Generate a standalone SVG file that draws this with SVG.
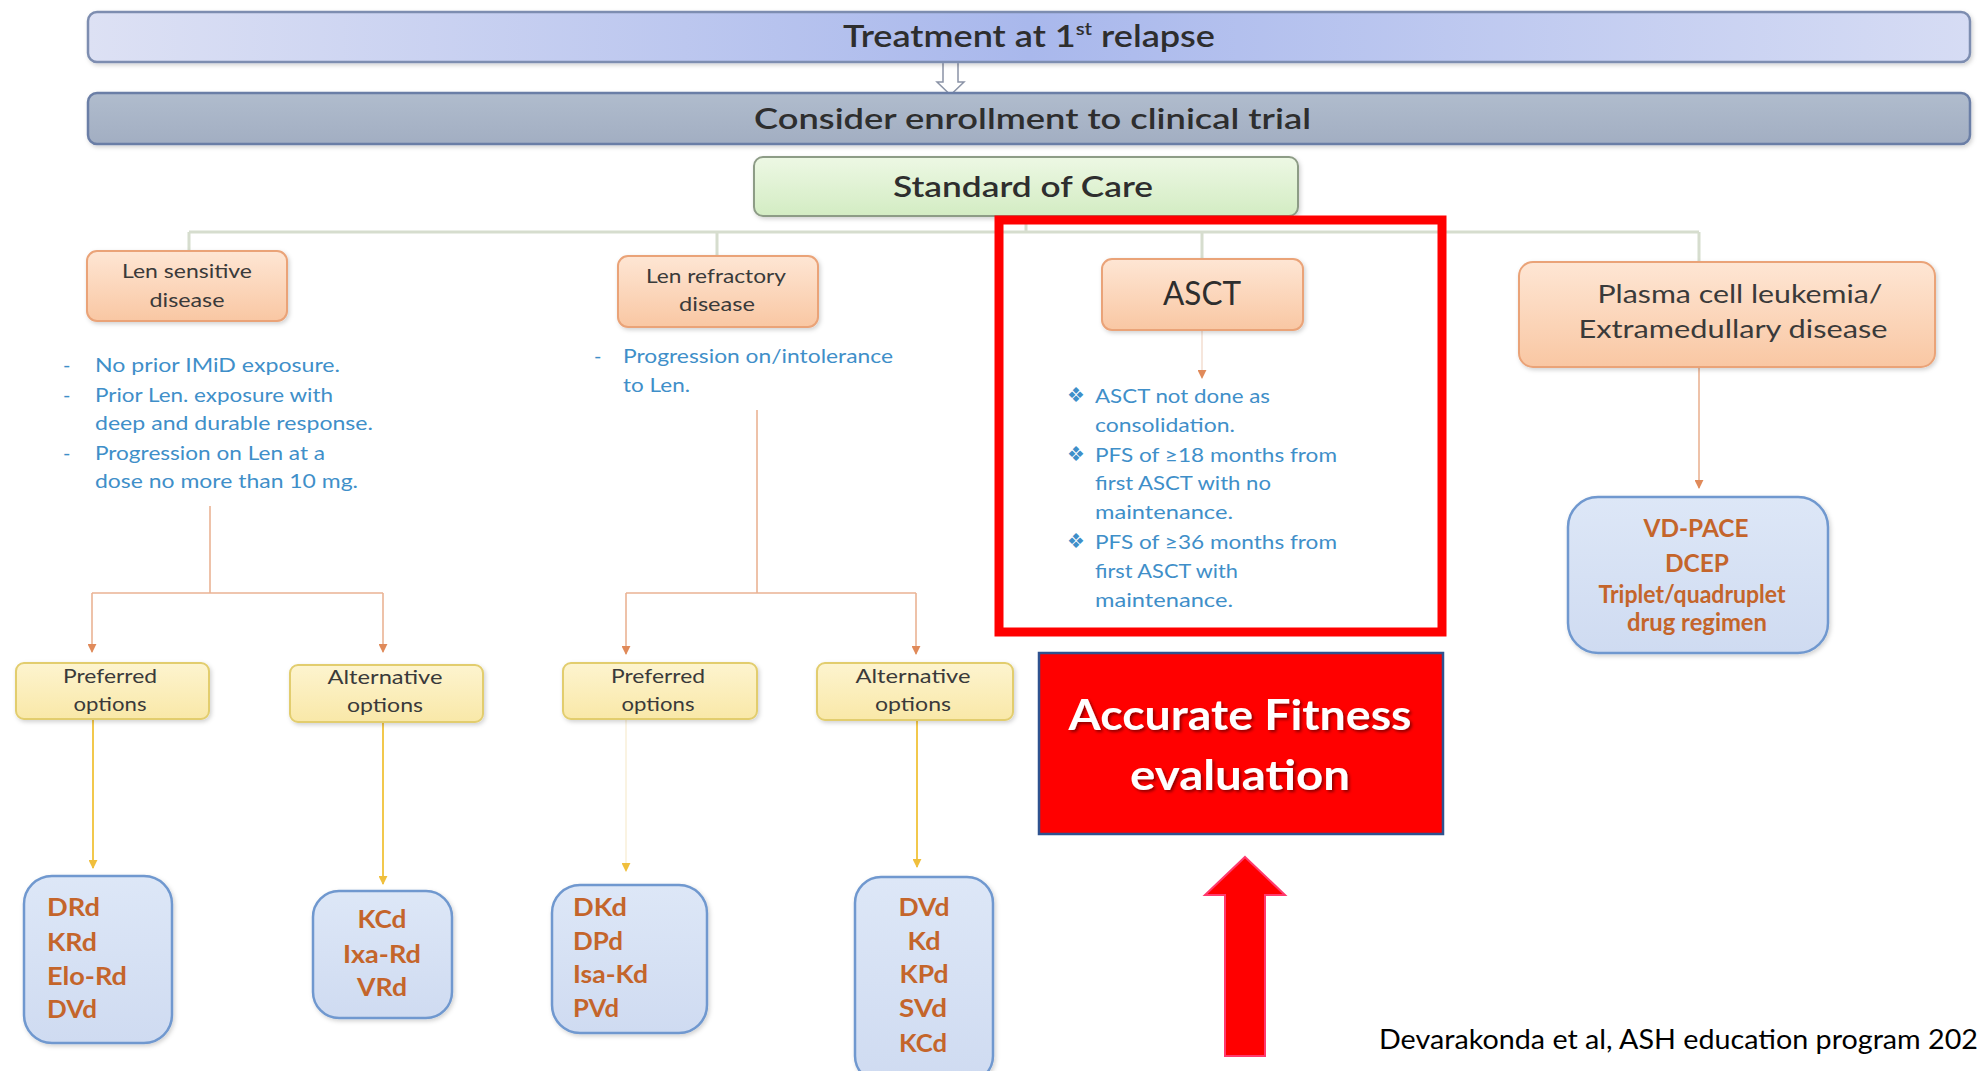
<svg xmlns="http://www.w3.org/2000/svg" width="1978" height="1071" viewBox="0 0 1978 1071">
<style>
  text { font-family: Lato, "Liberation Sans", sans-serif; }
  .hdr { fill: #2e2e2e; font-weight: 600; }
  .lbl { fill: #3a3a3a; font-size: 20px; }
  .bul { fill: #3f8fc9; font-size: 20px; }
  .drug { fill: #c4652b; font-size: 24px; font-weight: 700; }
  .peach { fill: url(#gPeach); stroke: #eaa378; stroke-width: 2; }
  .yel { fill: url(#gYel); stroke: #e2cd6e; stroke-width: 2; }
  .blue { fill: url(#gBlue); stroke: #6f98cf; stroke-width: 2.5; }
  .trunk { stroke: #d6ddce; stroke-width: 3; fill: none; }
  .org { stroke: #eab394; stroke-width: 1.6; fill: none; }
  .ylw { stroke: #f2c84c; stroke-width: 2; fill: none; }
</style>
<defs>
  <linearGradient id="gTop" x1="0" y1="0" x2="1" y2="0">
    <stop offset="0" stop-color="#dde1f4"/>
    <stop offset="0.5" stop-color="#a9b8ec"/>
    <stop offset="1" stop-color="#d6dcf4"/>
  </linearGradient>
  <linearGradient id="gGray" x1="0" y1="0" x2="0" y2="1">
    <stop offset="0" stop-color="#b0bccd"/>
    <stop offset="1" stop-color="#a2aec2"/>
  </linearGradient>
  <linearGradient id="gGreen" x1="0" y1="0" x2="0" y2="1">
    <stop offset="0" stop-color="#edf8e4"/>
    <stop offset="1" stop-color="#d3ecc3"/>
  </linearGradient>
  <linearGradient id="gPeach" x1="0" y1="0" x2="0" y2="1">
    <stop offset="0" stop-color="#fee6d4"/>
    <stop offset="1" stop-color="#f9c7a3"/>
  </linearGradient>
  <linearGradient id="gYel" x1="0" y1="0" x2="0" y2="1">
    <stop offset="0" stop-color="#fdf4cf"/>
    <stop offset="1" stop-color="#f9e8a8"/>
  </linearGradient>
  <linearGradient id="gBlue" x1="0" y1="0" x2="0" y2="1">
    <stop offset="0" stop-color="#dde7f7"/>
    <stop offset="1" stop-color="#cfdbf1"/>
  </linearGradient>
  <filter id="sh" x="-10%" y="-10%" width="120%" height="130%">
    <feDropShadow dx="1.5" dy="2" stdDeviation="2" flood-color="#000" flood-opacity="0.18"/>
  </filter>
  <filter id="tsh" x="-5%" y="-20%" width="110%" height="140%">
    <feDropShadow dx="2" dy="2" stdDeviation="1.5" flood-color="#000" flood-opacity="0.45"/>
  </filter>
  <marker id="aO" viewBox="0 0 10 10" refX="9" refY="5" markerWidth="9" markerHeight="9" markerUnits="userSpaceOnUse" orient="auto">
    <path d="M0,0 L10,5 L0,10 z" fill="#e08a5a"/>
  </marker>
  <marker id="aY" viewBox="0 0 10 10" refX="9" refY="5" markerWidth="9" markerHeight="9" markerUnits="userSpaceOnUse" orient="auto">
    <path d="M0,0 L10,5 L0,10 z" fill="#f0bf3c"/>
  </marker>
</defs>

<rect width="1978" height="1071" fill="#ffffff"/>

<g id="connectors">
  <path class="trunk" d="M1026,216 V232 M189,232 H1699 M189,232 V251 M717,232 V256 M1202,232 V259 M1699,232 V262"/>
  <path class="org" d="M210,506 V593 M92,593 H383"/>
  <path class="org" d="M92,593 V652" marker-end="url(#aO)"/>
  <path class="org" d="M383,593 V652" marker-end="url(#aO)"/>
  <path class="org" d="M757,410 V593 M626,593 H916"/>
  <path class="org" d="M626,593 V654" marker-end="url(#aO)"/>
  <path class="org" d="M916,593 V654" marker-end="url(#aO)"/>
  <path d="M1202,330 V378" stroke="#f3dccd" stroke-width="1.4" fill="none" marker-end="url(#aO)"/>
  <path class="org" d="M1699,367 V488" marker-end="url(#aO)"/>
  <path class="ylw" d="M93,720 V868" marker-end="url(#aY)"/>
  <path class="ylw" d="M383,722 V884" marker-end="url(#aY)"/>
  <path d="M626,720 V871" stroke="#f8efd8" stroke-width="1.5" fill="none" marker-end="url(#aY)"/>
  <path class="ylw" d="M917,720 V867" marker-end="url(#aY)"/>
  <path d="M943,62 H958 V82 H964 L950.5,95 L937,82 H943 Z" fill="#ffffff" stroke="#8a93a6" stroke-width="1.5"/>
</g>

<g id="n-treatment">
  <rect x="88" y="12" width="1882" height="50" rx="9" fill="url(#gTop)" stroke="#7d8db0" stroke-width="2.5" filter="url(#sh)"/>
  <text class="hdr" x="843" y="47" font-size="30" textLength="372" lengthAdjust="spacingAndGlyphs">Treatment at 1<tspan font-size="17" dy="-12">st</tspan><tspan dy="12"> relapse</tspan></text>
</g>

<g id="n-trial">
  <rect x="88" y="93" width="1882" height="51" rx="9" fill="url(#gGray)" stroke="#6a7ea6" stroke-width="2.5" filter="url(#sh)"/>
  <text class="hdr" x="754" y="129" font-size="29" textLength="557" lengthAdjust="spacingAndGlyphs">Consider enrollment to clinical trial</text>
</g>

<g id="n-soc">
  <rect x="754" y="157" width="544" height="59" rx="9" fill="url(#gGreen)" stroke="#8d9c86" stroke-width="2" filter="url(#sh)"/>
  <text class="hdr" x="893" y="197" font-size="29" textLength="260" lengthAdjust="spacingAndGlyphs">Standard of Care</text>
</g>

<g id="n-lensens">
  <rect class="peach" x="87" y="251" width="200" height="70" rx="10" filter="url(#sh)"/>
  <text class="lbl" x="187" y="278" text-anchor="middle" textLength="130" lengthAdjust="spacingAndGlyphs">Len sensitive</text>
  <text class="lbl" x="187" y="307" text-anchor="middle" textLength="75" lengthAdjust="spacingAndGlyphs">disease</text>
</g>
<g id="t-lensens">
  <text class="bul" x="63" y="372">-</text>
  <text class="bul" x="95" y="372" textLength="245" lengthAdjust="spacingAndGlyphs">No prior  IMiD exposure.</text>
  <text class="bul" x="63" y="402">-</text>
  <text class="bul" x="95" y="402" textLength="238" lengthAdjust="spacingAndGlyphs">Prior Len. exposure with</text>
  <text class="bul" x="95" y="430" textLength="278" lengthAdjust="spacingAndGlyphs">deep and durable response.</text>
  <text class="bul" x="63" y="460">-</text>
  <text class="bul" x="95" y="460" textLength="230" lengthAdjust="spacingAndGlyphs">Progression on Len at a</text>
  <text class="bul" x="95" y="488" textLength="263" lengthAdjust="spacingAndGlyphs">dose no more than 10 mg.</text>
</g>

<g id="n-lenref">
  <rect class="peach" x="618" y="256" width="200" height="71" rx="10" filter="url(#sh)"/>
  <text class="lbl" x="716" y="283" text-anchor="middle" textLength="140" lengthAdjust="spacingAndGlyphs">Len refractory</text>
  <text class="lbl" x="717" y="311" text-anchor="middle" textLength="76" lengthAdjust="spacingAndGlyphs">disease</text>
</g>
<g id="t-lenref">
  <text class="bul" x="594" y="363">-</text>
  <text class="bul" x="623" y="363" textLength="270" lengthAdjust="spacingAndGlyphs">Progression on/intolerance</text>
  <text class="bul" x="623" y="392" textLength="67" lengthAdjust="spacingAndGlyphs">to Len.</text>
</g>

<g id="n-asct">
  <rect class="peach" x="1102" y="259" width="201" height="71" rx="10" filter="url(#sh)"/>
  <text x="1202" y="305" text-anchor="middle" font-size="32" fill="#2e2e2e" textLength="78" lengthAdjust="spacingAndGlyphs">ASCT</text>
</g>
<g id="t-asct">
  <text class="bul" x="1076" y="402" font-size="16" text-anchor="middle" font-family="DejaVu Sans">❖</text>
  <text class="bul" x="1095" y="403" textLength="175" lengthAdjust="spacingAndGlyphs">ASCT not done as</text>
  <text class="bul" x="1095" y="432" textLength="140" lengthAdjust="spacingAndGlyphs">consolidation.</text>
  <text class="bul" x="1076" y="461" font-size="16" text-anchor="middle" font-family="DejaVu Sans">❖</text>
  <text class="bul" x="1095" y="462" textLength="242" lengthAdjust="spacingAndGlyphs">PFS of ≥18 months from</text>
  <text class="bul" x="1095" y="490" textLength="176" lengthAdjust="spacingAndGlyphs">first ASCT with no</text>
  <text class="bul" x="1095" y="519" textLength="138" lengthAdjust="spacingAndGlyphs">maintenance.</text>
  <text class="bul" x="1076" y="548" font-size="16" text-anchor="middle" font-family="DejaVu Sans">❖</text>
  <text class="bul" x="1095" y="549" textLength="242" lengthAdjust="spacingAndGlyphs">PFS of ≥36 months from</text>
  <text class="bul" x="1095" y="578" textLength="143" lengthAdjust="spacingAndGlyphs">first ASCT with</text>
  <text class="bul" x="1095" y="607" textLength="138" lengthAdjust="spacingAndGlyphs">maintenance.</text>
</g>
<rect id="highlight" x="999" y="220" width="443" height="412" fill="none" stroke="#ff0000" stroke-width="9"/>

<g id="n-plasma">
  <rect class="peach" x="1519" y="262" width="416" height="105" rx="14" filter="url(#sh)"/>
  <text x="1740" y="303" text-anchor="middle" font-size="25" fill="#3a3a3a" textLength="285" lengthAdjust="spacingAndGlyphs">Plasma cell leukemia/</text>
  <text x="1733" y="338" text-anchor="middle" font-size="25" fill="#3a3a3a" textLength="309" lengthAdjust="spacingAndGlyphs">Extramedullary disease</text>
</g>

<g id="n-vdpace">
  <rect class="blue" x="1568" y="497" width="260" height="156" rx="30" filter="url(#sh)"/>
  <text class="drug" x="1696" y="537" text-anchor="middle" font-size="23" textLength="105" lengthAdjust="spacingAndGlyphs">VD-PACE</text>
  <text class="drug" x="1697" y="572" text-anchor="middle" font-size="23" textLength="64" lengthAdjust="spacingAndGlyphs">DCEP</text>
  <text class="drug" x="1692" y="603" text-anchor="middle" font-size="18" textLength="187" lengthAdjust="spacingAndGlyphs">Triplet/quadruplet</text>
  <text class="drug" x="1697" y="631" text-anchor="middle" font-size="18" textLength="140" lengthAdjust="spacingAndGlyphs">drug regimen</text>
</g>

<g id="n-pref1">
  <rect class="yel" x="16" y="663" width="193" height="56" rx="8" filter="url(#sh)"/>
  <text class="lbl" x="110" y="683" text-anchor="middle" textLength="94" lengthAdjust="spacingAndGlyphs">Preferred</text>
  <text class="lbl" x="110" y="711" text-anchor="middle" textLength="73" lengthAdjust="spacingAndGlyphs">options</text>
</g>
<g id="n-alt1">
  <rect class="yel" x="290" y="665" width="193" height="57" rx="8" filter="url(#sh)"/>
  <text class="lbl" x="385" y="684" text-anchor="middle" textLength="115" lengthAdjust="spacingAndGlyphs">Alternative</text>
  <text class="lbl" x="385" y="712" text-anchor="middle" textLength="76" lengthAdjust="spacingAndGlyphs">options</text>
</g>
<g id="n-pref2">
  <rect class="yel" x="563" y="663" width="194" height="56" rx="8" filter="url(#sh)"/>
  <text class="lbl" x="658" y="683" text-anchor="middle" textLength="94" lengthAdjust="spacingAndGlyphs">Preferred</text>
  <text class="lbl" x="658" y="711" text-anchor="middle" textLength="73" lengthAdjust="spacingAndGlyphs">options</text>
</g>
<g id="n-alt2">
  <rect class="yel" x="817" y="663" width="196" height="57" rx="8" filter="url(#sh)"/>
  <text class="lbl" x="913" y="683" text-anchor="middle" textLength="115" lengthAdjust="spacingAndGlyphs">Alternative</text>
  <text class="lbl" x="913" y="711" text-anchor="middle" textLength="76" lengthAdjust="spacingAndGlyphs">options</text>
</g>

<g id="n-drd">
  <rect class="blue" x="24" y="876" width="148" height="167" rx="28" filter="url(#sh)"/>
  <text class="drug" x="47" y="916" textLength="53" lengthAdjust="spacingAndGlyphs">DRd</text>
  <text class="drug" x="47" y="951" textLength="50" lengthAdjust="spacingAndGlyphs">KRd</text>
  <text class="drug" x="47" y="985" textLength="80" lengthAdjust="spacingAndGlyphs">Elo-Rd</text>
  <text class="drug" x="47" y="1018" textLength="50" lengthAdjust="spacingAndGlyphs">DVd</text>
</g>
<g id="n-kcd">
  <rect class="blue" x="313" y="891" width="139" height="127" rx="26" filter="url(#sh)"/>
  <text class="drug" x="382" y="928" text-anchor="middle" textLength="49" lengthAdjust="spacingAndGlyphs">KCd</text>
  <text class="drug" x="382" y="963" text-anchor="middle" textLength="78" lengthAdjust="spacingAndGlyphs">Ixa-Rd</text>
  <text class="drug" x="382" y="996" text-anchor="middle" textLength="50" lengthAdjust="spacingAndGlyphs">VRd</text>
</g>
<g id="n-dkd">
  <rect class="blue" x="552" y="885" width="155" height="148" rx="28" filter="url(#sh)"/>
  <text class="drug" x="573" y="916" textLength="54" lengthAdjust="spacingAndGlyphs">DKd</text>
  <text class="drug" x="573" y="950" textLength="50" lengthAdjust="spacingAndGlyphs">DPd</text>
  <text class="drug" x="573" y="983" textLength="75" lengthAdjust="spacingAndGlyphs">Isa-Kd</text>
  <text class="drug" x="573" y="1017" textLength="46" lengthAdjust="spacingAndGlyphs">PVd</text>
</g>
<g id="n-dvd">
  <rect class="blue" x="855" y="877" width="138" height="205" rx="26" filter="url(#sh)"/>
  <text class="drug" x="924" y="916" text-anchor="middle" textLength="51" lengthAdjust="spacingAndGlyphs">DVd</text>
  <text class="drug" x="924" y="950" text-anchor="middle" textLength="33" lengthAdjust="spacingAndGlyphs">Kd</text>
  <text class="drug" x="924" y="983" text-anchor="middle" textLength="49" lengthAdjust="spacingAndGlyphs">KPd</text>
  <text class="drug" x="923" y="1017" text-anchor="middle" textLength="48" lengthAdjust="spacingAndGlyphs">SVd</text>
  <text class="drug" x="923" y="1052" text-anchor="middle" textLength="48" lengthAdjust="spacingAndGlyphs">KCd</text>
</g>

<g id="n-fitness">
  <rect x="1039" y="653" width="404" height="181" fill="#ff0000" stroke="#2f528f" stroke-width="2.5"/>
  <text x="1240" y="730" text-anchor="middle" font-size="42" font-weight="700" fill="#ffffff" filter="url(#tsh)" textLength="343" lengthAdjust="spacingAndGlyphs">Accurate Fitness</text>
  <text x="1240" y="790" text-anchor="middle" font-size="42" font-weight="700" fill="#ffffff" filter="url(#tsh)" textLength="220" lengthAdjust="spacingAndGlyphs">evaluation</text>
</g>

<g id="n-uparrow">
  <path d="M1245,857 L1285,895 H1265 V1056 H1225 V895 H1205 Z" fill="#ff0000" stroke="#ff3a6e" stroke-width="2"/>
</g>

<text id="citation" x="1379" y="1049" font-size="27" fill="#000000" textLength="599" lengthAdjust="spacingAndGlyphs">Devarakonda et al, ASH education program 202</text>
</svg>
